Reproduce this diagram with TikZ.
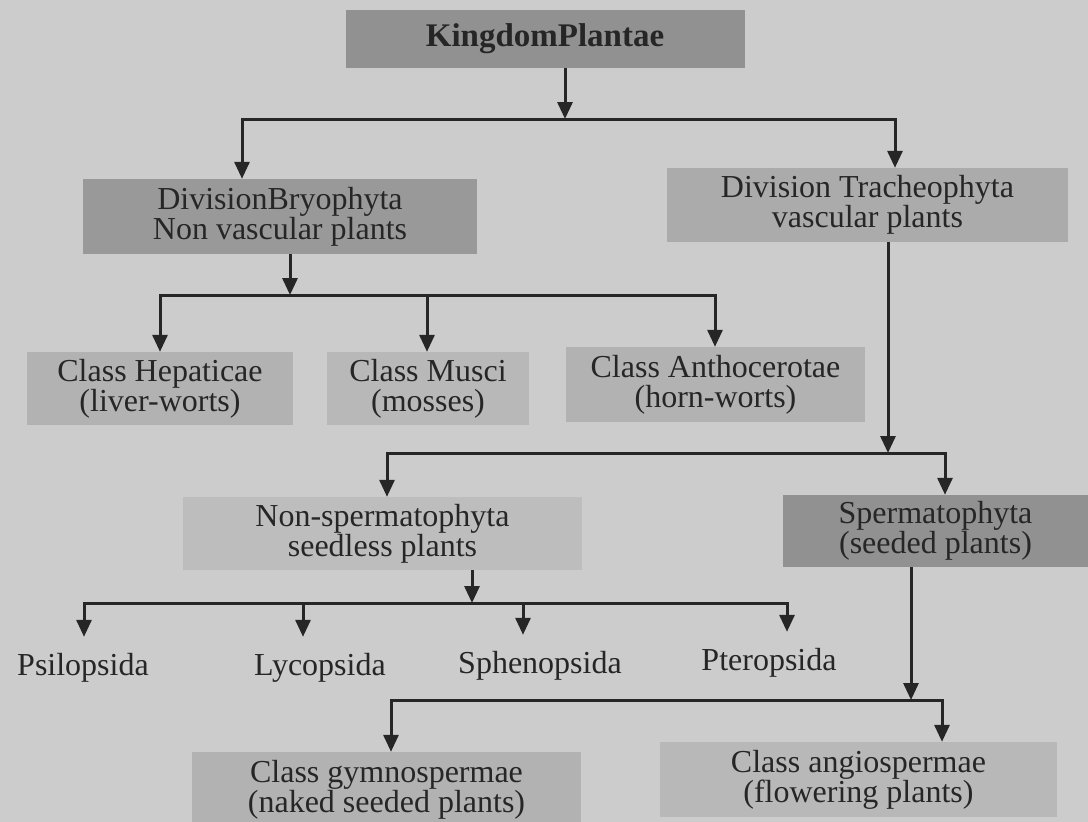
\documentclass[tikz,border=0pt]{standalone}
\usepackage{fontspec}
\setmainfont{Liberation Serif}
\usetikzlibrary{arrows.meta}
\begin{document}
\begin{tikzpicture}[x=1pt,y=-1pt,
  box/.style={rectangle, inner sep=0pt, align=center, text=black!85,
    font=\fontsize{32}{30}\selectfont},
  leaf/.style={inner xsep=0pt, inner ysep=15pt, text height=23pt, text depth=7pt,
    text=black!85, font=\fontsize{32}{30}\selectfont, anchor=base},
  wire/.style={line width=3pt, draw=black!85},
  arr/.style={wire, -{Triangle[width=15pt,length=17pt]}},
]
% page
\useasboundingbox (0,0) rectangle (1088,822);
\fill[black!20] (0,0) rectangle (1088,822);
\clip (0,0) rectangle (1088,822);

% boxes
\node[box, fill=black!43, minimum width=399pt, minimum height=58pt, font=\fontsize{33}{30}\selectfont\bfseries]
  (king) at (545,39) {KingdomPlantae};
\node[box, fill=black!40, minimum width=394pt, minimum height=75pt]
  (bryo) at (280,216.5) {DivisionBryophyta\\Non vascular plants};
\node[box, fill=black!33, minimum width=401pt, minimum height=74pt]
  (trach) at (867.5,205) {Division Tracheophyta\\vascular plants};
\node[box, fill=black!30, minimum width=266pt, minimum height=73pt]
  (hep) at (160,388.5) {Class Hepaticae\\(liver-worts)};
\node[box, fill=black!28, minimum width=202pt, minimum height=73pt]
  (musci) at (428,388.5) {Class Musci\\(mosses)};
\node[box, fill=black!30, minimum width=299pt, minimum height=75pt]
  (antho) at (715.5,384.5) {Class Anthocerotae\\(horn-worts)};
\node[box, fill=black!26, minimum width=399pt, minimum height=73pt]
  (nonsp) at (382.5,533.5) {Non-spermatophyta\\seedless plants};
\node[box, fill=black!43, minimum width=305pt, minimum height=72pt]
  (sperm) at (935.5,531) {Spermatophyta\\(seeded plants)};
\node[box, fill=black!30, minimum width=389pt, minimum height=76pt]
  (gymno) at (386.5,790) {Class gymnospermae\\(naked seeded plants)};
\node[box, fill=black!28, minimum width=397pt, minimum height=75pt]
  (angio) at (858.5,779.5) {Class angiospermae\\(flowering plants)};

% plain labels
\node[leaf] (psil)   at (83,675)  {Psilopsida};
\node[leaf] (lyco)   at (320,675) {Lycopsida};
\node[leaf] (spheno) at (540,673) {Sphenopsida};
\node[leaf] (ptero)  at (769,670) {Pteropsida};

% junctions on the bars
\coordinate (j1) at (565,119);
\coordinate (j2) at (290,295);
\coordinate (j3) at (888,453);
\coordinate (j4) at (472,603);
\coordinate (j5) at (911,700);

% drop points of the branches
\coordinate (c1a) at (242,0);  \coordinate (c1b) at (895,0);
\coordinate (c2a) at (160,0);  \coordinate (c2b) at (427,0);  \coordinate (c2c) at (715,0);
\coordinate (c3a) at (387,0);  \coordinate (c3b) at (945,0);
\coordinate (c4a) at (84,0);   \coordinate (c4b) at (303,0);
\coordinate (c4c) at (523,0);  \coordinate (c4d) at (787,0);
\coordinate (c5a) at (391,0);  \coordinate (c5b) at (942,0);

% Kingdom -> divisions
\draw[arr] (king.south -| j1) -- (j1);
\draw[arr] (j1) -| (c1a |- bryo.north);
\draw[arr] (j1) -| (c1b |- trach.north);

% Bryophyta -> classes
\draw[arr] (bryo.south -| j2) -- (j2);
\draw[arr] (j2) -| (c2a |- hep.north);
\draw[arr] (j2) -| (c2b |- musci.north);
\draw[arr] (j2) -| (c2c |- antho.north);

% Tracheophyta -> two groups
\draw[arr] (trach.south -| j3) -- (j3);
\draw[arr] (j3) -| (c3a |- nonsp.north);
\draw[arr] (j3) -| (c3b |- sperm.north);

% seedless plants
\draw[arr] (nonsp.south -| j4) -- (j4);
\draw[arr] (j4) -| (c4a |- psil.north);
\draw[arr] (j4) -| (c4b |- lyco.north);
\draw[arr] (j4) -| (c4c |- spheno.north);
\draw[arr] (j4) -| (c4d |- ptero.north);

% seeded plants
\draw[arr] (sperm.south -| j5) -- (j5);
\draw[arr] (j5) -| (c5a |- gymno.north);
\draw[arr] (j5) -| (c5b |- angio.north);
\end{tikzpicture}
\end{document}
